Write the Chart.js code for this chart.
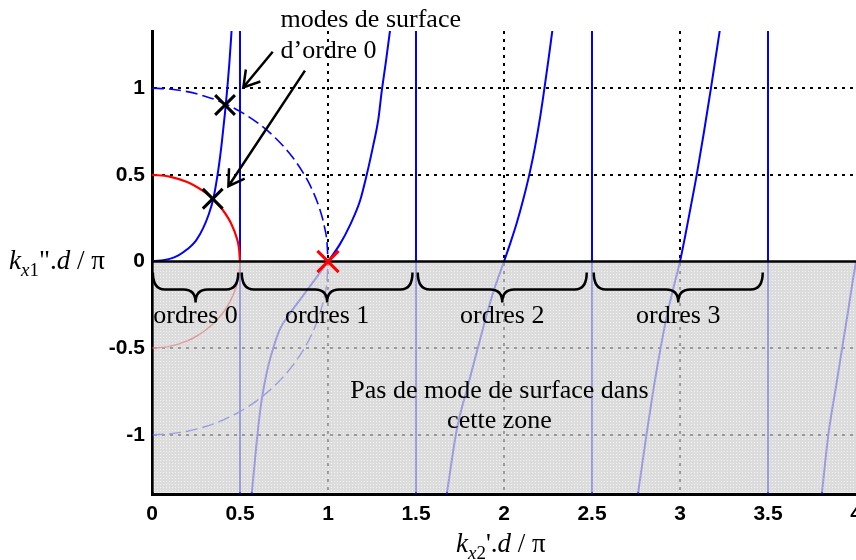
<!DOCTYPE html>
<html>
<head>
<meta charset="utf-8">
<script src="https://cdn.jsdelivr.net/npm/chart.js@4.4.0/dist/chart.umd.min.js"></script>
<style>
  html, body { margin: 0; padding: 0; background: #fff; }
  #chart { display: block; }
</style>
</head>
<body>
<canvas id="chart" width="856" height="560"></canvas>
<script>
// axis ranges and ticks
const xMin = 0, xMax = 4;
const yMin = -1.342, yMax = 1.33;
const xTicks = [0, 0.5, 1, 1.5, 2, 2.5, 3, 3.5, 4];
const xTickLabels = ['0', '0.5', '1', '1.5', '2', '2.5', '3', '3.5', '4'];
const yTicks = [1, 0.5, 0, -0.5, -1];
const yTickLabels = ['1', '0.5', '0', '-0.5', '-1'];
const xGridValues = [1, 2, 3];
const yGridValues = [1, 0.5, -0.5, -1];

// dispersion branches
const order0X = [0, 0.1, 0.15, 0.2, 0.25, 0.292, 0.32, 0.348, 0.377, 0.396, 0.415, 0.428, 0.44, 0.452, 0.458];
const order0Y = [0, 0.015, 0.035, 0.07, 0.12, 0.195, 0.265, 0.36, 0.53, 0.68, 0.86, 1.0, 1.15, 1.33, 1.42];
const order1X = [0.566, 0.585, 0.604, 0.623, 0.651, 0.68, 0.727, 0.784, 0.86, 0.936, 1.0, 1.068, 1.125, 1.182, 1.22, 1.257, 1.286, 1.305, 1.33, 1.352, 1.36];
const order1Y = [-1.35, -1.145, -0.953, -0.8, -0.645, -0.53, -0.39, -0.3, -0.195, -0.09, 0, 0.1, 0.21, 0.35, 0.5, 0.67, 0.82, 0.98, 1.16, 1.33, 1.4];
const order2X = [1.674, 1.731, 1.794, 1.854, 1.898, 1.943, 2.0, 2.034, 2.072, 2.11, 2.148, 2.176, 2.205, 2.227, 2.252, 2.277, 2.285];
const order2Y = [-1.35, -0.974, -0.72, -0.49, -0.32, -0.165, 0, 0.1, 0.22, 0.36, 0.52, 0.66, 0.83, 0.98, 1.16, 1.35, 1.41];
const order3X = [2.76, 2.81, 2.848, 2.886, 2.924, 2.962, 3.0, 3.03, 3.06, 3.095, 3.135, 3.176, 3.2, 3.227, 3.235];
const order3Y = [-1.35, -0.996, -0.745, -0.52, -0.32, -0.155, 0, 0.15, 0.31, 0.5, 0.74, 1.0, 1.16, 1.34, 1.4];
const order4X = [3.805, 3.843, 3.89, 3.918, 3.956, 3.985, 4.0];
const order4Y = [-1.35, -1.0, -0.7, -0.52, -0.28, -0.09, 0];

// vertical jumps of the branches
const asymptoteX = [0.5, 1.5, 2.5, 3.5];

// circle of radius 1 (blue dashed) and radius 0.5 (red)
const circleX = [0, 0.1, 0.2, 0.3, 0.4, 0.5, 0.6, 0.7, 0.8, 0.866, 0.9, 0.95, 0.98, 0.995, 1];
const circleUpperY = [1, 0.995, 0.98, 0.954, 0.917, 0.866, 0.8, 0.714, 0.6, 0.5, 0.436, 0.312, 0.199, 0.1, 0];
const circleLowerY = [-1, -0.995, -0.98, -0.954, -0.917, -0.866, -0.8, -0.714, -0.6, -0.5, -0.436, -0.312, -0.199, -0.1, 0];
const halfCircleX = [0, 0.1, 0.2, 0.25, 0.3, 0.35, 0.4, 0.433, 0.45, 0.48, 0.495, 0.5];
const halfCircleUpperY = [0.5, 0.49, 0.458, 0.433, 0.4, 0.357, 0.3, 0.25, 0.218, 0.14, 0.07, 0];
const halfCircleLowerY = [-0.5, -0.49, -0.458, -0.433, -0.4, -0.357, -0.3, -0.25, -0.218, -0.14, -0.07, 0];

// surface modes and cut-off marks
const surfaceModeX = [0.345, 0.415];
const surfaceModeY = [0.362, 0.903];
const cutoffX = [1];
const cutoffY = [0];

// braces under the axis
const braceStart = [0.005, 0.51, 1.51, 2.51];
const braceEnd = [0.49, 1.48, 2.47, 3.47];
const braceLabels = ['ordres 0', 'ordres 1', 'ordres 2', 'ordres 3'];

const pts = (xs, ys) => xs.map((x, i) => ({ x, y: ys[i] }));

function curve(xs, ys, color, width, dash) {
  return {
    data: pts(xs, ys),
    showLine: true,
    borderColor: color,
    borderWidth: width,
    borderDash: dash || [],
    pointRadius: 0,
    fill: false,
    cubicInterpolationMode: 'monotone'
  };
}

const BLUE = '#0000ff';
const RED = '#ff0000';

const datasets = [
  { // 0: cut-off mark
    data: pts(cutoffX, cutoffY),
    pointStyle: 'crossRot', pointRadius: 15,
    pointBorderColor: RED, pointBorderWidth: 3, showLine: false
  },
  { // 1: surface modes
    data: pts(surfaceModeX, surfaceModeY),
    pointStyle: 'crossRot', pointRadius: 14,
    pointBorderColor: '#000', pointBorderWidth: 3, showLine: false
  },
  curve(order0X, order0Y, BLUE, 2),
  curve(order1X, order1Y, BLUE, 2),
  curve(order2X, order2Y, BLUE, 2),
  curve(order3X, order3Y, BLUE, 2),
  curve(order4X, order4Y, BLUE, 2),
  curve(halfCircleX, halfCircleUpperY, RED, 2.2),
  curve(halfCircleX, halfCircleLowerY, RED, 1.5),
  curve(circleX, circleUpperY, BLUE, 1.6, [12, 5]),
  curve(circleX, circleLowerY, BLUE, 1.4, [12, 5])
];
asymptoteX.forEach(a => {
  datasets.push({
    data: [{ x: a, y: yMin }, { x: a, y: yMax }],
    showLine: true, borderColor: BLUE, borderWidth: 2, pointRadius: 0
  });
});

function makeShade(ctx) {
  const pc = document.createElement('canvas');
  pc.width = 3; pc.height = 3;
  const p = pc.getContext('2d');
  p.fillStyle = 'rgba(208,208,208,0.74)';
  p.fillRect(0, 0, 3, 3);
  p.clearRect(1, 1, 1, 1);
  p.fillStyle = 'rgba(238,238,238,0.74)';
  p.fillRect(1, 1, 1, 1);
  return ctx.createPattern(pc, 'repeat');
}

function drawRich(ctx, parts, x, y) {
  let cx = x;
  parts.forEach(p => {
    ctx.font = p.font;
    ctx.fillText(p.text, cx, y + (p.dy || 0));
    cx += ctx.measureText(p.text).width;
  });
}

function drawArrow(ctx, x1, y1, x2, y2) {
  const ang = Math.atan2(y1 - y2, x1 - x2);
  const len = 18, spread = 0.55;
  ctx.beginPath();
  ctx.moveTo(x1, y1);
  ctx.lineTo(x2, y2);
  ctx.moveTo(x2 + len * Math.cos(ang - spread), y2 + len * Math.sin(ang - spread));
  ctx.lineTo(x2, y2);
  ctx.lineTo(x2 + len * Math.cos(ang + spread), y2 + len * Math.sin(ang + spread));
  ctx.stroke();
}

function drawBrace(ctx, x1, x2, y0) {
  const top = y0 + 11, mid = y0 + 28, tip = y0 + 41, r = 12;
  const c = (x1 + x2) / 2;
  ctx.beginPath();
  ctx.moveTo(x1, top);
  ctx.quadraticCurveTo(x1, mid, x1 + r, mid);
  ctx.lineTo(c - r, mid);
  ctx.quadraticCurveTo(c, mid, c, tip);
  ctx.quadraticCurveTo(c, mid, c + r, mid);
  ctx.lineTo(x2 - r, mid);
  ctx.quadraticCurveTo(x2, mid, x2, top);
  ctx.stroke();
}

const SERIF = '"Liberation Serif", "Times New Roman", serif';

const decorations = {
  id: 'decorations',
  beforeDatasetDraw(chart, args) {
    if (args.index !== 1) return;
    const { ctx, chartArea: a, scales: { y } } = chart;
    const y0 = y.getPixelForValue(0);
    ctx.save();
    ctx.fillStyle = makeShade(ctx);
    ctx.fillRect(a.left + 1.5, y0, a.right - a.left - 1.5, a.bottom - 1.5 - y0);
    ctx.strokeStyle = '#000';
    ctx.lineWidth = 2.5;
    ctx.beginPath();
    ctx.moveTo(a.left, y0);
    ctx.lineTo(a.right, y0);
    ctx.stroke();
    ctx.restore();
  },
  afterDraw(chart) {
    const { ctx, scales: { x, y } } = chart;
    const y0 = y.getPixelForValue(0);
    ctx.save();
    ctx.fillStyle = '#000';
    ctx.strokeStyle = '#000';
    ctx.lineWidth = 2.5;
    ctx.textBaseline = 'alphabetic';

    // braces and their labels
    ctx.font = '26px ' + SERIF;
    ctx.textAlign = 'center';
    braceStart.forEach((s, i) => {
      const x1 = x.getPixelForValue(s), x2 = x.getPixelForValue(braceEnd[i]);
      drawBrace(ctx, x1, x2, y0);
      ctx.fillText(braceLabels[i], (x1 + x2) / 2, y0 + 62);
    });

    // zone text
    ctx.fillText('Pas de mode de surface dans', x.getPixelForValue(1.974), y.getPixelForValue(-0.786));
    ctx.fillText('cette zone', x.getPixelForValue(1.974), y.getPixelForValue(-0.96));

    // annotation
    ctx.textAlign = 'left';
    ctx.fillText('modes de surface', x.getPixelForValue(0.73), 27);
    ctx.fillText('d\u2019ordre 0', x.getPixelForValue(0.73), 58);
    drawArrow(ctx, x.getPixelForValue(0.686), y.getPixelForValue(1.21), x.getPixelForValue(0.519), y.getPixelForValue(1.005));
    drawArrow(ctx, x.getPixelForValue(0.869), y.getPixelForValue(1.101), x.getPixelForValue(0.434), y.getPixelForValue(0.434));

    // axis titles
    const I27 = 'italic 27px ' + SERIF, R27 = '27px ' + SERIF;
    const I19 = 'italic 19px ' + SERIF, R19 = '19px ' + SERIF;
    drawRich(ctx, [
      { text: 'k', font: I27 }, { text: 'x', font: I19, dy: 7 }, { text: '1', font: R19, dy: 7 },
      { text: '".', font: R27 }, { text: 'd', font: I27 }, { text: ' / \u03c0', font: R27 }
    ], 9, 269);
    drawRich(ctx, [
      { text: 'k', font: I27 }, { text: 'x', font: I19, dy: 7 }, { text: '2', font: R19, dy: 7 },
      { text: '\'.', font: R27 }, { text: 'd', font: I27 }, { text: ' / \u03c0', font: R27 }
    ], 456, 552);
    ctx.restore();
  }
};

const tickFont = { family: '"Liberation Sans", Arial, sans-serif', weight: 'bold', size: 21 };

new Chart(document.getElementById('chart'), {
  type: 'scatter',
  data: { datasets },
  options: {
    responsive: false,
    animation: false,
    devicePixelRatio: 1,
    layout: { autoPadding: false, padding: { top: 31, right: 0, bottom: 0, left: 0 } },
    plugins: { legend: { display: false }, tooltip: { enabled: false } },
    scales: {
      x: {
        type: 'linear', min: xMin, max: xMax,
        afterBuildTicks: s => { s.ticks = xTicks.map(v => ({ value: v })); },
        afterFit: s => { s.height = 66; s.paddingLeft = 0; s.paddingRight = 0; },
        ticks: {
          autoSkip: false, maxRotation: 0, padding: 8, color: '#000', font: tickFont,
          callback: v => xTickLabels[xTicks.indexOf(v)]
        },
        grid: {
          drawTicks: false, lineWidth: 2,
          color: c => (c.tick && xGridValues.includes(c.tick.value)) ? '#000' : 'rgba(0,0,0,0)'
        },
        border: { display: true, color: '#000', width: 3, dash: [3, 5] }
      },
      y: {
        type: 'linear', min: yMin, max: yMax,
        afterBuildTicks: s => { s.ticks = yTicks.map(v => ({ value: v })); },
        afterFit: s => { s.width = 152; s.paddingTop = 0; s.paddingBottom = 0; },
        ticks: {
          padding: 7, color: '#000', font: tickFont,
          callback: v => yTickLabels[yTicks.indexOf(v)]
        },
        grid: {
          drawTicks: false, lineWidth: 2,
          color: c => (c.tick && yGridValues.includes(c.tick.value)) ? '#000' : 'rgba(0,0,0,0)'
        },
        border: { display: true, color: '#000', width: 3, dash: [3, 5] }
      }
    }
  },
  plugins: [decorations]
});
</script>
</body>
</html>
